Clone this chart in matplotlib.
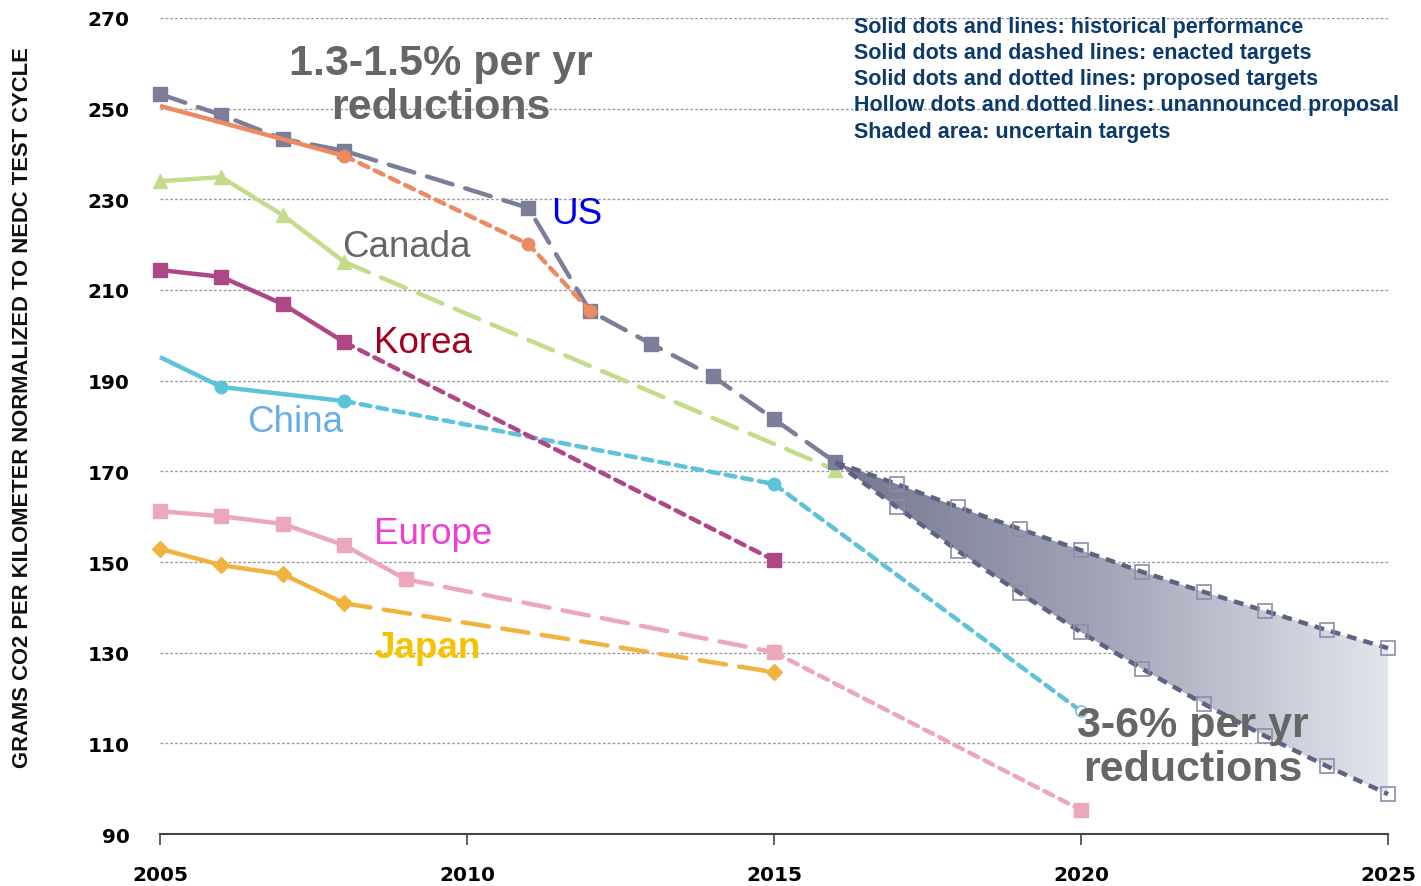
import numpy as np
import matplotlib.pyplot as plt
from matplotlib.colors import LinearSegmentedColormap

# ---- data ----
us_years = [2005, 2006, 2007, 2008, 2011, 2012, 2013, 2014, 2015, 2016]
us_vals = [253.2, 248.6, 243.3, 240.7, 228.1, 205.4, 198.1, 191.0, 181.5, 172.0]

proj_years = [2016, 2017, 2018, 2019, 2020, 2021, 2022, 2023, 2024, 2025]
us_high = [172.0, 167.2, 162.1, 157.3, 152.6, 147.8, 143.4, 139.2, 135.0, 131.0]
us_low = [172.0, 162.1, 152.4, 143.2, 134.5, 126.4, 118.7, 111.6, 105.0, 98.8]

us2_hist_years = [2005, 2008]
us2_hist_vals = [250.6, 239.6]
us2_tgt_years = [2008, 2011, 2012]
us2_tgt_vals = [239.6, 220.1, 205.4]

can_hist_years = [2005, 2006, 2007, 2008]
can_hist_vals = [234.0, 234.9, 226.5, 216.2]
can_tgt_years = [2008, 2016]
can_tgt_vals = [216.2, 170.3]

kor_hist_years = [2005, 2006, 2007, 2008]
kor_hist_vals = [214.4, 212.9, 206.9, 198.5]
kor_tgt_years = [2008, 2015]
kor_tgt_vals = [198.5, 150.4]

chn_hist_years = [2005, 2006, 2008]
chn_hist_vals = [195.2, 188.6, 185.5]
chn_tgt_years = [2008, 2015, 2020]
chn_tgt_vals = [185.5, 167.2, 117.1]

eu_hist_years = [2005, 2006, 2007, 2008, 2009]
eu_hist_vals = [161.2, 160.1, 158.4, 153.7, 146.2]
eu_enact_years = [2009, 2015]
eu_enact_vals = [146.2, 130.1]
eu_prop_years = [2015, 2020]
eu_prop_vals = [130.1, 95.3]

jpn_hist_years = [2005, 2006, 2007, 2008]
jpn_hist_vals = [152.9, 149.3, 147.3, 140.9]
jpn_tgt_years = [2008, 2015]
jpn_tgt_vals = [140.9, 125.7]

legend_lines = ["Solid dots and lines: historical performance",
                "Solid dots and dashed lines: enacted targets",
                "Solid dots and dotted lines: proposed targets",
                "Hollow dots and dotted lines: unannounced proposal",
                "Shaded area: uncertain targets"]

c_us = '#7b7e99'
c_us2 = '#ec8a62'
c_can = '#c3dc8c'
c_kor = '#ae4788'
c_chn = '#5cc3d8'
c_eu = '#eca7ba'
c_jpn = '#f1b33f'

LW = 3.2
LONG = (6, 3)
DOT = (2.2, 1.6)

fig = plt.figure(figsize=(14.21, 8.87), dpi=100)
ax = fig.add_axes([0.1126, 0.0586, 0.8642, 0.92])
ax.set_xlim(2005, 2025)
ax.set_ylim(90, 270)

for yv in range(110, 271, 20):
    ax.axhline(yv, color='#9a9a9a', lw=1.0, ls=(0, (2, 1.5)), zorder=0)

# shaded uncertain area with horizontal gradient
poly = ax.fill_between(proj_years, us_low, us_high, color='none', lw=0, zorder=1)
cmap = LinearSegmentedColormap.from_list('g', ['#74788f', '#a4a7b9', '#e3e5ec'])
grad = np.linspace(0, 1, 256).reshape(1, -1)
im = ax.imshow(grad, cmap=cmap, extent=[2016, 2025, 90, 270], aspect='auto', zorder=1)
im.set_clip_path(poly.get_paths()[0], transform=ax.transData)

ms = 10
def seg(x, y, color, dashes=None, marker=None, markevery=None, mfc=None, mec=None, msz=ms, z=3):
    kw = dict(color=color, lw=LW, zorder=z, clip_on=False, solid_capstyle='butt')
    if dashes is not None:
        kw['dashes'] = dashes
        kw['dash_capstyle'] = 'round'
    if marker is not None:
        kw.update(marker=marker, markersize=msz, markevery=markevery,
                  markerfacecolor=mfc or color, markeredgecolor=mec or color)
    ax.plot(x, y, **kw)

# Japan
seg(jpn_hist_years, jpn_hist_vals, c_jpn, marker='D', msz=8)
seg(jpn_tgt_years, jpn_tgt_vals, c_jpn, dashes=LONG, marker='D', markevery=[1], msz=8)
# Europe
seg(eu_hist_years, eu_hist_vals, c_eu, marker='s')
seg(eu_enact_years, eu_enact_vals, c_eu, dashes=LONG, marker='s', markevery=[1])
seg(eu_prop_years, eu_prop_vals, c_eu, dashes=DOT, marker='s', markevery=[1])
# China
seg(chn_hist_years, chn_hist_vals, c_chn, marker='o', markevery=[1, 2], msz=9)
seg(chn_tgt_years[:2], chn_tgt_vals[:2], c_chn, dashes=DOT, marker='o', markevery=[1], msz=9)
seg(chn_tgt_years[1:], chn_tgt_vals[1:], c_chn, dashes=DOT, marker='o', markevery=[1],
    mfc='white', msz=8)
# Korea
seg(kor_hist_years, kor_hist_vals, c_kor, marker='s')
seg(kor_tgt_years, kor_tgt_vals, c_kor, dashes=DOT, marker='s', markevery=[1])
# Canada
seg(can_hist_years, can_hist_vals, c_can, marker='^', msz=10)
seg(can_tgt_years, can_tgt_vals, c_can, dashes=LONG, marker='^', markevery=[1], msz=10)
# US
seg(us_years, us_vals, c_us, dashes=LONG, marker='s', z=4)
seg(us2_hist_years, us2_hist_vals, c_us2, marker='o', markevery=[1], msz=9, z=5)
seg(us2_tgt_years, us2_tgt_vals, c_us2, dashes=DOT, marker='o', markevery=[1, 2], msz=9, z=5)
# US projections
for vals in (us_high, us_low):
    ax.plot(proj_years, vals, color='#5f6282', lw=LW, dashes=DOT, zorder=4, clip_on=False,
            marker='s', markevery=list(range(1, len(proj_years))), markersize=10,
            markerfacecolor='none', markeredgecolor='#8c8ea8', markeredgewidth=1.2)

# labels
lab = dict(fontsize=26.5, family='Liberation Sans', zorder=6)
ax.text(2011.37, 226.8, 'US', color='#0000ee', ha='left', va='center', **lab)
ax.text(2007.96, 219.7, 'Canada', color='#666666', ha='left', va='center', **lab)
ax.text(2008.49, 198.5, 'Korea', color='#a3001f', ha='left', va='center', **lab)
ax.text(2006.42, 180.9, 'China', color='#67aee6', ha='left', va='center', **lab)
ax.text(2008.49, 156.2, 'Europe', color='#ee3fd2', ha='left', va='center', **lab)
ax.text(2008.49, 131.2, 'Japan', color='#f7c200', ha='left', va='center',
        fontweight='bold', **lab)

big = dict(fontsize=31, family='Liberation Sans', fontweight='bold', color='#666666',
           ha='center', va='center', linespacing=1.15, zorder=7)
ax.text(2009.58, 255.2, '1.3-1.5% per yr\nreductions', **big)
ax.text(2021.82, 109.2, '3-6% per yr\nreductions', **big)

for i, t in enumerate(legend_lines):
    ax.text(0.565, 0.990 - i * 0.0322, t, transform=ax.transAxes, fontsize=15.5,
            family='Liberation Sans', fontweight='bold', color='#0c3a6c',
            ha='left', va='center', zorder=7)

ax.set_xticks([2005, 2010, 2015, 2020, 2025])
ax.set_yticks(range(90, 271, 20))
ax.tick_params(axis='x', direction='out', length=8, width=1.2, color='#444444', pad=14)
ax.tick_params(axis='y', length=0, pad=22)
for lbl in ax.get_xticklabels() + ax.get_yticklabels():
    lbl.set_fontweight('bold')
    lbl.set_fontsize(14.5)
    lbl.set_family('DejaVu Sans')

for s in ('top', 'right', 'left'):
    ax.spines[s].set_visible(False)
ax.spines['bottom'].set_color('#444444')
ax.spines['bottom'].set_linewidth(1.5)

fig.text(0.0155, 0.541, 'GRAMS CO2 PER KILOMETER NORMALIZED TO NEDC TEST CYCLE',
         rotation=90, ha='center', va='center', fontsize=15.8, fontweight='bold',
         family=['Liberation Sans Narrow', 'Liberation Sans'], color='#111111')

fig.savefig('out.png', dpi=100)
